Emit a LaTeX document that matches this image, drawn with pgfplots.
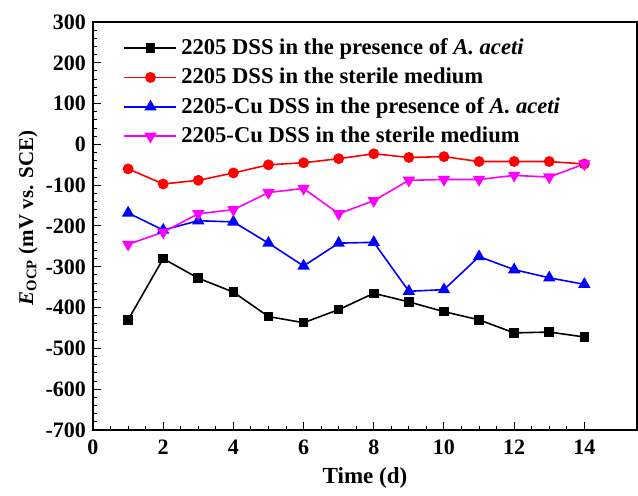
\documentclass[border=0pt]{standalone}
\usepackage{fontspec}
\setmainfont{Liberation Serif}
\usepackage{pgfplots}
\pgfplotsset{compat=1.18}
\definecolor{cMag}{HTML}{FF00FF}
\begin{document}
\begin{tikzpicture}[font=\bfseries\fontsize{11}{13}\selectfont]
\begin{axis}[
  name=ax,
  scale only axis, width=272pt, height=204pt,
  xmin=0, xmax=15.5, ymin=-700, ymax=300,
  xtick={0,2,...,14}, ytick={-700,-600,...,300},
  minor x tick num=3, minor y tick num=4,
  tick align=inside, xtick pos=left, ytick pos=left,
  major tick length=4pt, minor tick length=2pt,
  axis line style={line width=0.6pt}, tick style={line width=0.5pt, black},
  /pgf/number format/assume math mode=true,
  ticklabel style={font=\bfseries\fontsize{11}{13}\selectfont},
  xticklabel style={yshift=-1.5pt},
  xlabel={Time (d)},
  ylabel={\textit{E}\textsubscript{OCP} (mV vs. SCE)},
  xlabel style={font=\bfseries\fontsize{11.5}{14}\selectfont, at={(axis description cs:0.5,-0.118)}, anchor=center},
  ylabel style={font=\bfseries\fontsize{10.5}{12}\selectfont, at={(axis description cs:-0.1195,0.52)}, anchor=center},
  legend style={at={(0.052,0.975)}, anchor=north west, draw=none, fill=none,
    font=\bfseries\fontsize{11.3}{13}\selectfont, row sep=1.3pt, inner sep=1pt},
  legend cell align=left,
  legend image code/.code={\draw[#1] (0pt,0pt) -- (26pt,0pt); \draw[#1, only marks] plot coordinates {(13pt,0pt)};},
  every axis plot/.append style={line width=0.8pt},
]
\addplot[black, mark=square*, mark size=2pt] coordinates {
  (1,-430) (2,-280) (3,-328) (4,-362) (5,-422) (6,-437) (7,-405)
  (8,-365) (9,-386) (10,-410) (11,-430) (12,-462) (13,-460) (14,-472)};
\addlegendentry{2205 DSS in the presence of \textit{A. aceti}}
\addplot[red, mark=*, mark size=2.3pt] coordinates {
  (1,-60) (2,-97) (3,-88) (4,-70) (5,-50) (6,-45) (7,-35)
  (8,-23) (9,-32) (10,-30) (11,-42) (12,-42) (13,-42) (14,-48)};
\addlegendentry{2205 DSS in the sterile medium}
\addplot[blue, mark=triangle*, mark size=2.8pt] coordinates {
  (1,-168) (2,-210) (3,-187) (4,-190) (5,-242) (6,-298) (7,-242)
  (8,-240) (9,-360) (10,-356) (11,-275) (12,-307) (13,-327) (14,-343)};
\addlegendentry{2205-Cu DSS in the presence of \textit{A. aceti}}
\addplot[cMag, mark=triangle*, mark options={rotate=180}, mark size=2.8pt] coordinates {
  (1,-245) (2,-215) (3,-170) (4,-160) (5,-118) (6,-108) (7,-170)
  (8,-138) (9,-88) (10,-86) (11,-86) (12,-76) (13,-80) (14,-48)};
\addlegendentry{2205-Cu DSS in the sterile medium}
\end{axis}
\useasboundingbox ([shift={(-46.5pt,-31pt)}]ax.south west) rectangle ([shift={(0.5pt,11pt)}]ax.north east);
\end{tikzpicture}
\end{document}
